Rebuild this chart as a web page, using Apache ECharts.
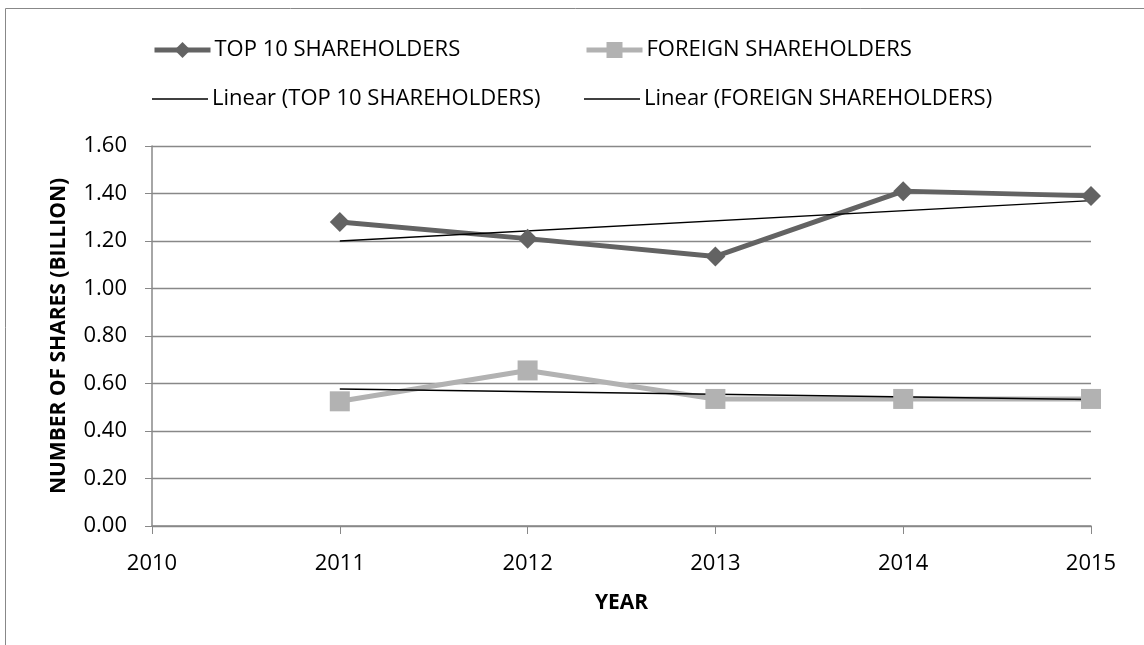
<!DOCTYPE html>
<html>
<head>
<meta charset="utf-8">
<script src="https://cdn.jsdelivr.net/npm/echarts@6/dist/echarts.min.js"></script>
<style>
  html, body { margin: 0; padding: 0; background: #fff; }
  #chart { width: 1144px; height: 645px; }
</style>
</head>
<body>
<div id="chart"></div>
<script>
const years = [2011, 2012, 2013, 2014, 2015];
const topHolders = [1.28, 1.21, 1.135, 1.41, 1.39];
const foreignHolders = [0.525, 0.655, 0.535, 0.535, 0.535];
// trend line end points (2011 and 2015)
const trendYears = [2011, 2015];
const trendTop = [1.20, 1.37];
const trendForeign = [0.577, 0.533];
const names = ['TOP 10 SHAREHOLDERS', 'FOREIGN SHAREHOLDERS',
               'Linear (TOP 10 SHAREHOLDERS)', 'Linear (FOREIGN SHAREHOLDERS)'];

const font = 'Open Sans';
const chart = echarts.init(document.getElementById('chart'));

const pairs = (xs, ys) => xs.map((x, i) => [x, ys[i]]);

// one legend per item so each sits where the original puts it
function oneLegend(item, left, top, lineWidth) {
    return {
        data: [item], left: left, top: top,
        itemWidth: 56, itemHeight: 20, itemGap: 4,
        lineStyle: { width: lineWidth },
        textStyle: { fontFamily: font, fontSize: 22, color: '#000', padding: [0, 0, 0, -1] }
    };
}
const thinLine = 'path://M0,0H56V1.6H0Z';

chart.setOption({
    animation: false,
    graphic: [{
        type: 'rect', shape: { x: 5.5, y: 8.5, width: 1200, height: 700 },
        style: { fill: null, stroke: '#888', lineWidth: 1 }
    }],
    legend: [
        oneLegend(names[0], 147, 34, 5),
        oneLegend(names[1], 579, 34, 5),
        oneLegend({ name: names[2], icon: thinLine }, 147, 83, 1.5),
        oneLegend({ name: names[3], icon: thinLine }, 579, 83, 1.5)
    ],
    grid: { left: 152, right: 53, top: 146, bottom: 119 },
    xAxis: {
        type: 'value', min: 2010, max: 2015, interval: 1,
        name: 'YEAR', nameLocation: 'middle', nameGap: 67,
        nameTextStyle: { fontFamily: font, fontSize: 21, fontWeight: 'bold', color: '#000' },
        axisLine: { lineStyle: { color: '#888', width: 1.5 } },
        axisTick: { show: true, length: 8, lineStyle: { color: '#888' } },
        axisLabel: { fontFamily: font, fontSize: 22, color: '#000', margin: 27,
                     formatter: v => String(v) },
        splitLine: { show: false }
    },
    yAxis: {
        type: 'value', min: 0, max: 1.6, interval: 0.2,
        name: 'NUMBER OF SHARES (BILLION)', nameLocation: 'middle', nameGap: 82,
        nameTextStyle: { fontFamily: font, fontSize: 21, fontWeight: 'bold', color: '#000' },
        axisLine: { show: true, lineStyle: { color: '#888', width: 1.5 } },
        axisTick: { show: true, length: 7, lineStyle: { color: '#888' } },
        axisLabel: { fontFamily: font, fontSize: 22, color: '#000', margin: 25,
                     formatter: v => v.toFixed(2) },
        splitLine: { lineStyle: { color: '#888', width: 1.3 } }
    },
    series: [
        {
            name: names[0], type: 'line', data: pairs(years, topHolders),
            symbol: 'diamond', symbolSize: 20,
            lineStyle: { color: '#636363', width: 5 },
            itemStyle: { color: '#636363' }
        },
        {
            name: names[1], type: 'line', data: pairs(years, foreignHolders),
            symbol: 'rect', symbolSize: 20,
            lineStyle: { color: '#b2b2b2', width: 5 },
            itemStyle: { color: '#b2b2b2' }
        },
        {
            name: names[2], type: 'line', data: pairs(trendYears, trendTop),
            symbol: 'none', lineStyle: { color: '#000', width: 1.5 },
            itemStyle: { color: '#000' }
        },
        {
            name: names[3], type: 'line', data: pairs(trendYears, trendForeign),
            symbol: 'none', lineStyle: { color: '#000', width: 1.5 },
            itemStyle: { color: '#000' }
        }
    ]
});
</script>
</body>
</html>
